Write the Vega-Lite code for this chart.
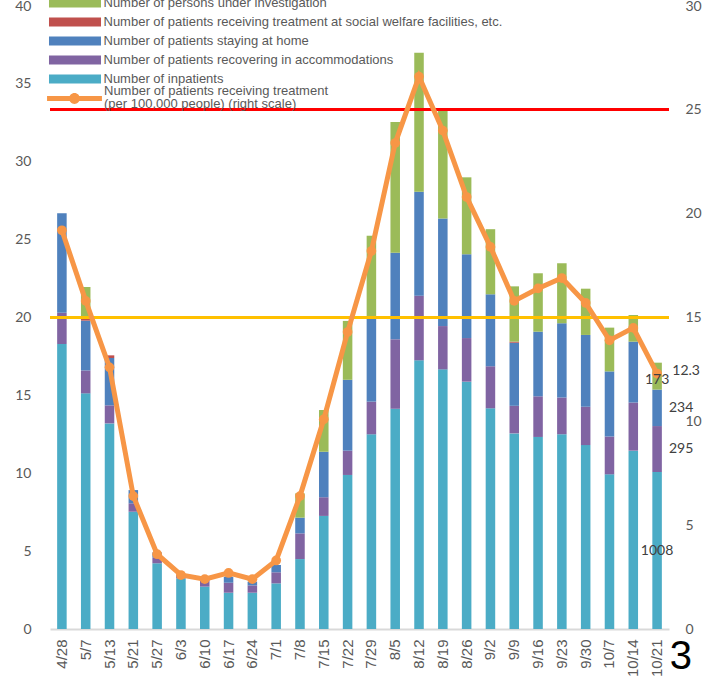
{
  "$schema": "https://vega.github.io/schema/vega-lite/v6.json",
  "width": 619,
  "height": 623,
  "autosize": {"type": "none"},
  "padding": {"left": 50, "top": 6, "right": 39, "bottom": 48},
  "background": "white",
  "datasets": {
    "weekly": [
      {"date": "4/28", "inp": 1830, "acc": 200, "home": 640, "welf": 0, "inv": 0, "rate": 19.2},
      {"date": "5/7", "inp": 1513, "acc": 147, "home": 320, "welf": 20, "inv": 196, "rate": 15.8},
      {"date": "5/13", "inp": 1320, "acc": 116, "home": 304, "welf": 17, "inv": 0, "rate": 12.6},
      {"date": "5/21", "inp": 753, "acc": 54, "home": 85, "welf": 0, "inv": 0, "rate": 6.4},
      {"date": "5/27", "inp": 422, "acc": 36, "home": 34, "welf": 0, "inv": 0, "rate": 3.6},
      {"date": "6/3", "inp": 325, "acc": 15, "home": 10, "welf": 0, "inv": 0, "rate": 2.6},
      {"date": "6/10", "inp": 272, "acc": 43, "home": 12, "welf": 0, "inv": 0, "rate": 2.4},
      {"date": "6/17", "inp": 233, "acc": 64, "home": 39, "welf": 0, "inv": 0, "rate": 2.7},
      {"date": "6/24", "inp": 233, "acc": 47, "home": 24, "welf": 0, "inv": 0, "rate": 2.4},
      {"date": "7/1", "inp": 293, "acc": 71, "home": 47, "welf": 0, "inv": 0, "rate": 3.3},
      {"date": "7/8", "inp": 449, "acc": 165, "home": 101, "welf": 0, "inv": 156, "rate": 6.4},
      {"date": "7/15", "inp": 726, "acc": 120, "home": 292, "welf": 0, "inv": 268, "rate": 10.1},
      {"date": "7/22", "inp": 989, "acc": 156, "home": 455, "welf": 0, "inv": 378, "rate": 14.3},
      {"date": "7/29", "inp": 1250, "acc": 210, "home": 537, "welf": 0, "inv": 528, "rate": 18.2},
      {"date": "8/5", "inp": 1414, "acc": 446, "home": 556, "welf": 0, "inv": 839, "rate": 23.4},
      {"date": "8/12", "inp": 1725, "acc": 415, "home": 668, "welf": 0, "inv": 892, "rate": 26.6},
      {"date": "8/19", "inp": 1667, "acc": 278, "home": 690, "welf": 0, "inv": 708, "rate": 24.0},
      {"date": "8/26", "inp": 1588, "acc": 280, "home": 538, "welf": 0, "inv": 494, "rate": 20.8},
      {"date": "9/2", "inp": 1417, "acc": 270, "home": 462, "welf": 0, "inv": 418, "rate": 18.4},
      {"date": "9/9", "inp": 1256, "acc": 177, "home": 405, "welf": 7, "inv": 355, "rate": 15.8},
      {"date": "9/16", "inp": 1233, "acc": 261, "home": 415, "welf": 0, "inv": 375, "rate": 16.4},
      {"date": "9/23", "inp": 1250, "acc": 237, "home": 476, "welf": 0, "inv": 385, "rate": 16.9},
      {"date": "9/30", "inp": 1181, "acc": 246, "home": 461, "welf": 0, "inv": 297, "rate": 15.7},
      {"date": "10/7", "inp": 993, "acc": 243, "home": 418, "welf": 0, "inv": 281, "rate": 13.9},
      {"date": "10/14", "inp": 1145, "acc": 309, "home": 391, "welf": 0, "inv": 171, "rate": 14.5},
      {"date": "10/21", "inp": 1008, "acc": 295, "home": 234, "welf": 0, "inv": 173, "rate": 12.3}
    ],
    "series": [
      {"key": "inp", "order": 1, "label": "Number of inpatients"},
      {"key": "acc", "order": 2, "label": "Number of patients recovering in accommodations"},
      {"key": "home", "order": 3, "label": "Number of patients staying at home"},
      {"key": "welf", "order": 4, "label": "Number of patients receiving treatment at social welfare facilities, etc."},
      {"key": "inv", "order": 5, "label": "Number of persons under investigation"}
    ]
  },
  "data": {"name": "weekly"},
  "title": {
    "text": "3",
    "orient": "bottom",
    "anchor": "end",
    "frame": "group",
    "offset": -40,
    "dx": 23,
    "fontSize": 40,
    "font": "Liberation Sans",
    "fontWeight": "normal",
    "color": "#000000"
  },
  "layer": [
    {
      "transform": [
        {"fold": ["inp", "acc", "home", "welf", "inv"], "as": ["key", "people"]},
        {"lookup": "key", "from": {"data": {"name": "series"}, "key": "key", "fields": ["label", "order"]}}
      ],
      "mark": {"type": "bar"},
      "encoding": {
        "x": {
          "field": "date", "type": "nominal", "sort": null, "title": null,
          "scale": {"paddingInner": 0.6, "paddingOuter": 0.3},
          "axis": {"labelAngle": 270, "labelPadding": 10, "labelFontSize": 15, "labelFont": "Liberation Sans", "labelColor": "#595959", "ticks": false, "tickSize": 0, "domainColor": "#D9D9D9", "domainWidth": 2, "grid": false}
        },
        "y": {
          "field": "people", "type": "quantitative", "title": null, "stack": "zero",
          "scale": {"domain": [0, 4000], "nice": false},
          "axis": {"orient": "left", "tickCount": 8, "labelExpr": "datum.value / 100", "ticks": false, "tickSize": 0, "domain": false, "grid": false, "labelPadding": 19, "labelFont": "Lato", "labelFontSize": 14, "labelColor": "#595959"}
        },
        "color": {
          "field": "label", "type": "nominal",
          "scale": {
            "domain": ["Number of persons under investigation", "Number of patients receiving treatment at social welfare facilities, etc.", "Number of patients staying at home", "Number of patients recovering in accommodations", "Number of inpatients"],
            "range": ["#9BBB59", "#C0504D", "#4F81BD", "#8064A2", "#4BACC6"]
          },
          "legend": {
            "orient": "none", "legendX": -3, "legendY": -9.5, "title": null,
            "symbolType": "M-5.78,-1H5.78V1H-5.78Z", "symbolSize": 81, "symbolOffset": 21.5, "symbolStrokeWidth": 0,
            "labelOffset": 22, "labelFont": "Liberation Sans", "labelFontSize": 13, "labelColor": "#595959",
            "rowPadding": 5.0, "padding": 0, "labelLimit": 1000
          }
        },
        "order": {"field": "order", "type": "quantitative"}
      }
    },
    {
      "layer": [
        {
          "mark": {"type": "rule", "color": "#FF0000", "strokeWidth": 2},
          "encoding": {"y": {"datum": 25, "type": "quantitative", "title": null, "scale": {"domain": [0, 30], "nice": false}}}
        },
        {
          "mark": {"type": "rule", "color": "#FFC000", "strokeWidth": 2},
          "encoding": {"y": {"datum": 15, "type": "quantitative", "title": null}}
        },
        {
          "mark": {"type": "line", "strokeWidth": 5, "point": {"filled": true, "size": 95}},
          "encoding": {
            "x": {"field": "date", "type": "nominal", "sort": null, "title": null},
            "y": {
              "field": "rate", "type": "quantitative", "title": null,
              "scale": {"domain": [0, 30], "nice": false},
              "axis": {"orient": "right", "tickCount": 6, "ticks": false, "tickSize": 0, "domain": false, "grid": false, "labelPadding": 16, "labelFont": "Lato", "labelFontSize": 14, "labelColor": "#595959"}
            },
            "color": {
              "datum": "Number of patients receiving treatment|(per 100,000 people) (right scale)", "type": "nominal",
              "scale": {"range": ["#F79646"]},
              "legend": {
                "orient": "none", "legendX": -5, "legendY": 86, "title": null,
                "symbolType": "M-6.1,-0.55H6.1V0.55H-6.1Z M-1.2,0A1.2,1.2,0,1,1,1.2,0A1.2,1.2,0,1,1,-1.2,0Z",
                "symbolSize": 81, "symbolOffset": 23, "labelOffset": 23,
                "labelExpr": "split(datum.label, '|')",
                "labelFont": "Liberation Sans", "labelFontSize": 13, "labelColor": "#595959",
                "padding": 0, "labelLimit": 1000,
                "encode": {
                  "symbols": {"update": {"fill": {"value": "#F79646"}, "stroke": {"value": "transparent"}, "strokeWidth": {"value": 0}, "opacity": {"value": 1}}},
                  "labels": {"update": {"dy": {"value": -8}, "lineHeight": {"value": 13}}}
                }
              }
            }
          }
        },
        {
          "transform": [{"filter": "datum.date == '10/21'"}],
          "mark": {"type": "text", "font": "Lato", "fontSize": 14, "color": "#404040", "align": "center", "baseline": "middle", "dx": 29, "dy": -3},
          "encoding": {
            "x": {"field": "date", "type": "nominal", "sort": null, "title": null},
            "y": {"field": "rate", "type": "quantitative", "title": null},
            "text": {"field": "rate", "format": ".1f"}
          }
        }
      ]
    },
    {
      "transform": [
        {"fold": ["inp", "acc", "home", "welf", "inv"], "as": ["key", "people"]},
        {"lookup": "key", "from": {"data": {"name": "series"}, "key": "key", "fields": ["order"]}},
        {"filter": "datum.date == '10/21' && datum.people > 0"},
        {"stack": "people", "groupby": ["date"], "sort": [{"field": "order"}], "as": ["p0", "p1"]},
        {"fold": ["p0", "p1"], "as": ["edge", "pos"]}
      ],
      "encoding": {
        "x": {"field": "date", "type": "nominal", "sort": null, "title": null},
        "y": {"field": "pos", "type": "quantitative", "aggregate": "mean", "title": null, "stack": null, "scale": {"domain": [0, 4000], "nice": false}, "axis": null},
        "detail": {"field": "key"},
        "text": {"field": "people", "aggregate": "max"}
      },
      "layer": [
        {
          "transform": [{"filter": "datum.key == 'inp'"}],
          "mark": {"type": "text", "font": "Lato", "fontSize": 14, "color": "#404040", "align": "center", "baseline": "middle"}
        },
        {
          "transform": [{"filter": "datum.key == 'inv'"}],
          "mark": {"type": "text", "font": "Lato", "fontSize": 14, "color": "#404040", "align": "center", "baseline": "middle", "dy": 4}
        },
        {
          "transform": [{"filter": "datum.key == 'acc' || datum.key == 'home'"}],
          "mark": {"type": "text", "font": "Lato", "fontSize": 14, "color": "#404040", "align": "center", "baseline": "middle", "dx": 24}
        }
      ]
    }
  ],
  "resolve": {"scale": {"y": "independent", "color": "independent"}},
  "config": {"view": {"stroke": null}, "font": "Liberation Sans"}
}
